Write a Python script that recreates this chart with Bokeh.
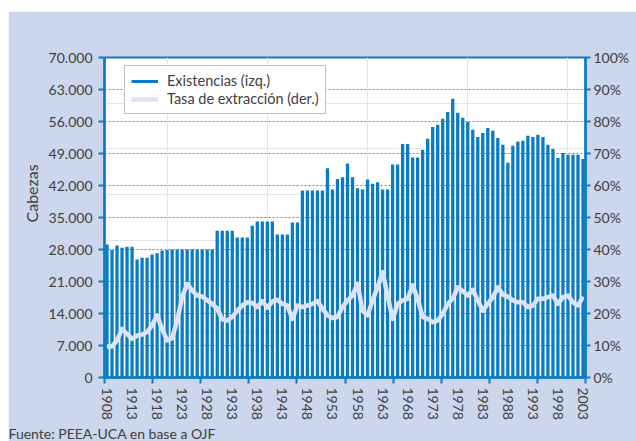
from bokeh.plotting import figure
from bokeh.layouts import column, row
from bokeh.models import (ColumnDataSource, Range1d, LinearAxis, FixedTicker, Legend,
                          LegendItem, Grid, Title, Spacer)
from bokeh.embed import file_html
from bokeh.resources import INLINE

# ---------------- data ----------------
years = list(range(1908, 2004))

# Existencias (cabezas), left axis
existencias = [
    29100, 27900, 28900, 28400, 28600, 28600, 25800, 26200, 26200, 26900,   # 1908-1917
    27200, 27800, 27900, 28000, 28000, 28000, 28000, 28000, 28000, 28000,   # 1918-1927
    28000, 28000, 32100, 32100, 32100, 32100, 30600, 30600, 30600, 33200,   # 1928-1937
    34100, 34100, 34100, 34100, 31300, 31300, 31300, 33900, 33900, 40900,   # 1938-1947
    40900, 40900, 40900, 40900, 45800, 41100, 43400, 43800, 46800, 43800,   # 1948-1957
    41400, 41100, 43300, 42400, 42700, 41100, 41100, 46600, 46600, 51100,   # 1958-1967
    51100, 48100, 48100, 49800, 52200, 54800, 55300, 56600, 58100, 61000,   # 1968-1977
    57900, 56800, 55900, 54200, 52600, 53500, 54600, 54000, 52400, 50900,   # 1978-1987
    47000, 50700, 51600, 51800, 52900, 52600, 53100, 52600, 50900, 50000,   # 1988-1997
    48000, 49100, 48700, 48700, 48700, 47800,                               # 1998-2003
]

# Tasa de extracción (%), right axis
tasa = [
    9.7, 9.7, 11.6, 15.2, 13.6, 12.1, 13.1, 13.4, 14.2, 16.3,     # 1908-1917
    19.4, 15.2, 11.6, 12.3, 17.8, 25.1, 29.3, 27.2, 25.6, 25.3,   # 1918-1927
    24.1, 23.0, 21.5, 18.2, 17.8, 18.9, 20.9, 22.5, 23.5, 23.3,   # 1928-1937
    22.0, 23.9, 21.8, 23.8, 24.3, 23.0, 22.5, 18.3, 22.5, 22.0,   # 1938-1947
    22.5, 23.0, 23.9, 21.5, 19.4, 18.6, 18.9, 22.0, 24.1, 25.6,   # 1948-1957
    29.3, 20.9, 19.4, 24.1, 28.2, 32.9, 25.6, 18.3, 23.0, 24.1,   # 1958-1967
    24.6, 28.8, 24.6, 18.9, 18.3, 17.3, 17.8, 19.9, 23.0, 24.6,   # 1968-1977
    28.2, 27.0, 25.6, 27.4, 24.1, 20.9, 23.0, 25.1, 28.2, 25.9,   # 1978-1987
    25.3, 24.1, 23.5, 23.5, 22.0, 22.5, 24.6, 24.6, 25.1, 25.6,   # 1988-1997
    23.0, 25.1, 25.6, 23.5, 22.5, 25.3,                           # 1998-2003
]

y_ticks = [0, 7000, 14000, 21000, 28000, 35000, 42000, 49000, 56000, 63000, 70000]
y_tick_labels = ["0", "7.000", "14.000", "21.000", "28.000", "35.000",
                 "42.000", "49.000", "56.000", "63.000", "70.000"]
pct_ticks = [0, 10, 20, 30, 40, 50, 60, 70, 80, 90, 100]
pct_labels = ["0%", "10%", "20%", "30%", "40%", "50%", "60%", "70%", "80%", "90%", "100%"]
x_label_years = list(range(1908, 2004, 5))
x_label_text = [str(y) for y in x_label_years]

series_labels = ["Existencias (izq.)", "Tasa de extracción (der.)"]
y_axis_title = "Cabezas"
source_note = "Fuente: PEEA-UCA en base a OJF"

# ---------------- style ----------------
BLUE = "#0A7CC4"
LIGHT = "#DCE3F5"
BG = "#CCD6ED"
TXT = "#404040"
FONT = "Lato"

X0, X1 = years[0] - 0.5, years[-1] + 0.5
x_tick_marks = [X0 + (X1 - X0) * k / 10 for k in range(11)]

src = ColumnDataSource(dict(year=years, existencias=existencias, tasa=tasa))

p = figure(width=628, height=430, output_backend="svg", toolbar_location=None,
           x_range=Range1d(X0, X1), y_range=Range1d(0, 70000),
           x_axis_location=None, y_axis_location=None,
           min_border_left=96, min_border_right=51, min_border_top=46, min_border_bottom=64)
p.border_fill_color = BG
p.background_fill_color = "white"
p.outline_line_color = BLUE
p.outline_line_width = 2
p.extra_y_ranges = {"pct": Range1d(0, 100)}

p.add_layout(Grid(dimension=1, ticker=FixedTicker(ticks=y_ticks),
                  grid_line_color="#808080", grid_line_dash="2 2", grid_line_width=1))

def style_axis(ax):
    ax.axis_line_color = BLUE
    ax.axis_line_width = 2.5
    ax.major_tick_line_color = BLUE
    ax.major_tick_line_width = 2
    ax.major_tick_in = 0
    ax.minor_tick_line_color = None
    ax.major_label_text_font = FONT
    ax.major_label_text_font_size = "14px"
    ax.major_label_text_color = TXT

left = LinearAxis(ticker=FixedTicker(ticks=y_ticks),
                  major_label_overrides=dict(zip(y_ticks, y_tick_labels)))
style_axis(left)
left.major_tick_out = 6
left.major_label_standoff = 6
p.add_layout(left, "left")

right = LinearAxis(y_range_name="pct", ticker=FixedTicker(ticks=pct_ticks),
                   major_label_overrides=dict(zip(pct_ticks, pct_labels)))
style_axis(right)
right.major_tick_out = 5
right.major_label_standoff = 3
p.add_layout(right, "right")

xticks_ax = LinearAxis(ticker=FixedTicker(ticks=x_tick_marks))
style_axis(xticks_ax)
xticks_ax.major_tick_out = 6
xticks_ax.major_label_standoff = 0
xticks_ax.major_label_text_font_size = "1px"
xticks_ax.major_label_text_alpha = 0
p.add_layout(xticks_ax, "below")

xlab_ax = LinearAxis(ticker=FixedTicker(ticks=x_label_years),
                     major_label_overrides=dict(zip(x_label_years, x_label_text)))
style_axis(xlab_ax)
xlab_ax.axis_line_color = None
xlab_ax.major_tick_line_color = None
xlab_ax.major_tick_out = 0
xlab_ax.major_label_standoff = 4
xlab_ax.major_label_orientation = "vertical"
p.add_layout(xlab_ax, "below")

p.add_layout(Title(text=y_axis_title, align="left", offset=155, standoff=9,
                   text_font=FONT, text_font_size="16px", text_font_style="normal",
                   text_color=TXT), "left")
p.add_layout(Title(text=source_note, align="left", offset=-96, standoff=0,
                   text_font=FONT, text_font_size="14px", text_font_style="normal",
                   text_color=TXT), "below")

bars = p.vbar(x="year", top="existencias", width=0.66, source=src,
              fill_color=BLUE, line_color=None)
line_r = p.line(x="year", y="tasa", y_range_name="pct", source=src,
                line_color=LIGHT, line_width=4.5, line_join="round")
dummy = p.line(x=[float("nan")], y=[float("nan")], line_color=BLUE, line_width=3)

legend = Legend(items=[LegendItem(label=series_labels[0], renderers=[dummy]),
                       LegendItem(label=series_labels[1], renderers=[line_r])],
                location=(20, 263))
legend.border_line_color = "#808080"
legend.border_line_width = 1
legend.background_fill_color = "white"
legend.background_fill_alpha = 1
legend.label_text_font = FONT
legend.label_text_font_size = "14.5px"
legend.label_text_color = TXT
legend.glyph_width = 27
legend.glyph_height = 14
legend.label_height = 14
legend.padding = 6
legend.spacing = 1
legend.label_standoff = 9
legend.margin = 0
p.add_layout(legend)

layout = column(Spacer(height=11), row(Spacer(width=8), p))
open("out.html", "w").write(file_html(layout, INLINE))
